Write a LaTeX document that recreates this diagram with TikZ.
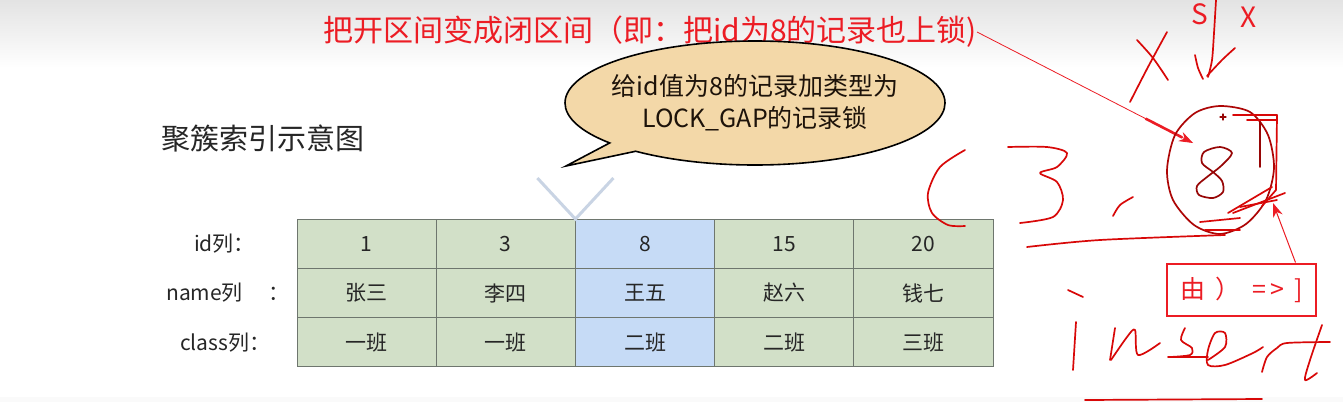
\documentclass[tikz,border=0pt]{standalone}
\usepackage{fontspec}
\setmainfont{Noto Sans CJK SC}
\usetikzlibrary{arrows.meta,positioning,shapes.callouts,calc}
\definecolor{cellgreen}{HTML}{D2E0C8}
\definecolor{cellblue}{HTML}{C6DBF6}
\definecolor{bubblefill}{HTML}{F3D8A8}
\definecolor{noteRed}{HTML}{EC1C24}
\definecolor{penRed}{HTML}{D80808}
\definecolor{gridgray}{HTML}{6E766E}
\definecolor{vgray}{HTML}{C9D4E4}

\begin{document}
\begin{tikzpicture}[
      x=1pt, y=-1pt,
      font=\fontsize{21}{25}\selectfont,
      cell/.style={draw=gridgray, line width=1pt, fill=cellgreen, text=black!85,
                   minimum width=139.2pt, minimum height=49.3pt,
                   inner sep=0pt, outer sep=0pt},
      hot/.style={cell, fill=cellblue},
      rowlbl/.style={anchor=west, inner sep=0pt, text=black!85},
      note/.style={text=noteRed, inner sep=0pt},
      pen/.style={penRed, line width=1.7pt, line cap=round, line join=round},
      arr/.style={noteRed, line width=1pt, -{Stealth[length=14pt, width=10pt]}}
    ]
    % ---- page ----
    \useasboundingbox (0,0) rectangle (1343,402);
    \fill[white] (0,0) rectangle (1343,402);
    \shade[top color=black!11, bottom color=white] (0,0) rectangle (1343,68);
    \fill[black!2] (0,397) rectangle (1343,402);

    % ---- headings ----
    \node[note, font=\fontsize{30}{34}\selectfont] (title) at (650,32)
      {把开区间变成闭区间（即：把id为8的记录也上锁)};
    \node[rowlbl, font=\fontsize{29}{33}\selectfont] (caption) at (161,138)
      {聚簇索引示意图};

    % ---- speech bubble ----
    \coordinate (tailtip) at (566,166);
    \node[ellipse callout, draw=black, line width=1.6pt, fill=bubblefill,
          minimum width=380pt, minimum height=124pt, inner xsep=-20pt,
          callout absolute pointer={(tailtip)}, callout pointer arc=11,
          align=center, text=black!85!brown, font=\fontsize{25}{32}\selectfont]
      (bubble) at (755,103)
      {给id值为8的记录加类型为\\ LOCK\_GAP的记录锁};

    % ---- table ----
    \node[cell] (id1) at (366.6,243.7) {1};
    \node[cell, right=0pt of id1] (id2) {3};
    \node[hot,  right=0pt of id2] (id3) {8};
    \node[cell, right=0pt of id3] (id4) {15};
    \node[cell, right=0pt of id4] (id5) {20};

    \node[cell, below=0pt of id1] (nm1) {张三};
    \node[cell, right=0pt of nm1] (nm2) {李四};
    \node[hot,  right=0pt of nm2] (nm3) {王五};
    \node[cell, right=0pt of nm3] (nm4) {赵六};
    \node[cell, right=0pt of nm4] (nm5) {钱七};

    \node[cell, below=0pt of nm1] (cl1) {一班};
    \node[cell, right=0pt of cl1] (cl2) {一班};
    \node[hot,  right=0pt of cl2] (cl3) {二班};
    \node[cell, right=0pt of cl3] (cl4) {二班};
    \node[cell, right=0pt of cl4] (cl5) {三班};

    \coordinate (idx) at (194,0);
    \coordinate (nmx) at (166,0);
    \coordinate (clx) at (180,0);
    \node[rowlbl] (idlbl) at (idx |- id1) {id列：};
    \node[rowlbl] (nmlbl) at (nmx |- nm1) {name列\hspace{26pt}：};
    \node[rowlbl] (cllbl) at (clx |- cl1) {class列：};

    % gap marker over the 3|8 boundary
    \draw[vgray, line width=3pt] ([shift={(-38,-41)}]id3.north west)
      -- (id3.north west) -- ++(38,-41);

    % ---- notes on the right ----
    \node[note, font=\fontsize{28}{30}\selectfont] (slock) at (1200,14) {S};
    \node[note, font=\fontsize{28}{30}\selectfont] (xlock) at (1249,17) {X};

    \node[draw=noteRed, line width=2pt, minimum width=149pt, minimum height=52pt,
          text=noteRed, font=\fontsize{25}{28}\selectfont] (rule) at (1241.5,289.5)
      {由\hspace{10pt}）\hspace{12pt}=\hspace{4pt}>\hspace{10pt}]};

    \coordinate (eightpt) at (1193,143);
    \coordinate (bracketpt) at (1273,203);
    \draw[arr, line width=0.8pt] (title.east) -- (eightpt);
    \draw[noteRed, line width=2.6pt] ($(title.east)!0.78!(eightpt)$) -- ($(title.east)!0.95!(eightpt)$);
    \draw[arr] ([xshift=54pt]rule.north) -- (bracketpt);

    % ---- handwriting ----
    % arrow under S
    \draw[pen] plot[smooth] coordinates {(1216,0) (1214,33) (1212,60) (1208,77)};
    \draw[pen] plot[smooth] coordinates {(1195,55) (1198,68) (1203,79)};
    \draw[pen] plot[smooth] coordinates {(1235,48) (1222,60) (1207,76)};
    % X
    \draw[pen] plot[smooth] coordinates {(1137,40) (1153,58) (1168,80)};
    \draw[pen] plot[smooth] coordinates {(1167,32) (1148,67) (1130,102)};
    % ( 3 ,
    \draw[pen] plot[smooth] coordinates {(965,150) (940,167) (928,193) (932,213) (948,225) (965,226)};
    \draw[pen] plot[smooth] coordinates {(1008,147) (1047,147) (1067,153) (1057,167)
      (1040,173) (1057,182) (1063,200) (1053,217) (1020,223)};
    \draw[pen] plot[smooth] coordinates {(1133,197) (1120,205) (1113,216)};
    % circled 8 and bracket
    \draw[pen, penRed!80!black] plot[smooth cycle] coordinates {(1220,106) (1250,112) (1268,135)
      (1274,168) (1266,200) (1246,224) (1220,234) (1194,225) (1173,200) (1167,170)
      (1175,135) (1195,113)};
    \draw[pen, penRed!70!black] plot[smooth cycle] coordinates {(1232,153) (1220,147) (1204,152)
      (1202,163) (1213,172) (1222,181) (1223,192) (1213,198) (1199,195) (1197,186)
      (1207,177) (1221,166)};
    \draw[pen, penRed!70!black, line width=1.2pt] (1220,117) -- (1226,117) (1223,114) -- (1223,120);
    \draw[pen] (1233,115) -- (1277,115) -- (1276,190) -- (1262,206);
    \draw[pen] (1247,120) -- (1277,120);
    \draw[pen, penRed!70!black] (1260,122) -- (1260,167);
    \draw[pen] (1228,213) -- (1272,187);
    \draw[pen] (1240,207) -- (1277,200);
    \draw[pen] (1233,213) -- (1285,193);
    \draw[pen] (1200,222) -- (1240,218);
    \draw[pen] (1205,230) -- (1240,230);
    \draw[pen] plot[smooth] coordinates {(1027,247) (1100,240) (1225,235)};
    % insert
    \draw[pen] (1068,290) -- (1083,297);
    \draw[pen] (1076,322) -- (1073,370);
    \draw[pen] (1110,360) -- (1115,328);
    \draw[pen] plot[smooth] coordinates {(1111,360) (1127,337) (1135,330) (1138,355) (1160,343)};
    \draw[pen] plot[smooth] coordinates {(1185,328) (1181,340) (1192,348) (1190,355) (1170,357)};
    \draw[pen] (1168,357) -- (1208,357);
    \draw[pen] plot[smooth] coordinates {(1208,360) (1225,347) (1225,333) (1215,333)
      (1208,350) (1208,365) (1225,365) (1253,353) (1263,347)};
    \draw[pen] plot[smooth] coordinates {(1262,372) (1267,357) (1277,348) (1287,343) (1330,342)};
    \draw[pen] plot[smooth] coordinates {(1322,325) (1310,360) (1305,380) (1317,373)};
    \draw[pen] (1085,400) -- (1262,399);
  \end{tikzpicture}
\end{document}
